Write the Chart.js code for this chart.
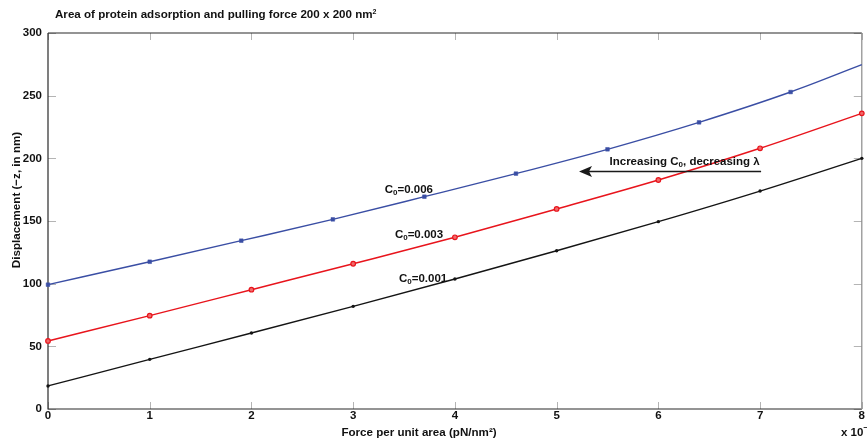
<!DOCTYPE html>
<html>
<head>
<meta charset="utf-8">
<script src="https://cdn.jsdelivr.net/npm/chart.js@4/dist/chart.umd.min.js"></script>
<style>
  html, body { margin: 0; padding: 0; background: #ffffff; }
  #wrap { width: 867px; height: 441px; position: relative; }
</style>
</head>
<body>
<div id="wrap"><canvas id="chart" width="867" height="441"></canvas></div>
<script>
// Force per unit area (x 10^-3 pN/nm^2) and displacement (-z, nm)
const forceGrid = [0, 1, 2, 3, 4, 5, 6, 7, 8];
const dispC001 = [18.4, 39.6, 60.6, 81.9, 103.7, 126.3, 149.5, 173.9, 200.0];
const dispC003 = [54.3, 74.5, 95.2, 115.9, 137.0, 159.6, 182.7, 208.0, 235.9];
const forceC006 = [0, 1, 1.9, 2.8, 3.7, 4.6, 5.5, 6.4, 7.3, 8];
const dispC006 = [99.2, 117.5, 134.3, 151.3, 169.4, 187.8, 207.2, 228.7, 252.9, 274.7];

const xTickValues = [0, 1, 2, 3, 4, 5, 6, 7, 8];
const yTickValues = [0, 50, 100, 150, 200, 250, 300];

const FONT = '"Liberation Sans", Arial, Helvetica, sans-serif';

const toPoints = (xs, ys) => xs.map((x, i) => ({ x: x, y: ys[i] }));

// Curve labels and the trend arrow, placed in data coordinates
const curveLabels = [
  { sub: '0', value: '=0.006', x: 3.31, y: 174.8 },
  { sub: '0', value: '=0.003', x: 3.41, y: 138.8 },
  { sub: '0', value: '=0.001', x: 3.45, y: 103.7 }
];
const trendNote = { x: 5.52, y: 197.0 };
const trendArrow = { from: 7.01, to: 5.22, y: 189.4 };

function drawSubText(ctx, x, y, parts) {
  let cx = x;
  parts.forEach(p => {
    ctx.font = 'bold ' + p.size + 'px ' + FONT;
    ctx.fillText(p.t, cx, y + (p.dy || 0));
    cx += ctx.measureText(p.t).width;
  });
  return cx;
}

const frame = {
  id: 'frame',
  beforeDatasetsDraw(chart) {
    const { ctx, chartArea: a, scales } = chart;
    const xs = scales.x, ys = scales.y;
    ctx.save();
    // inward tick marks on all four sides
    ctx.strokeStyle = '#b4b4b4';
    ctx.lineWidth = 1;
    ctx.beginPath();
    xTickValues.forEach(v => {
      const px = Math.round(xs.getPixelForValue(v)) + 0.5;
      ctx.moveTo(px, a.bottom); ctx.lineTo(px, a.bottom - 7);
      ctx.moveTo(px, a.top); ctx.lineTo(px, a.top + 7);
    });
    yTickValues.forEach(v => {
      const py = Math.round(ys.getPixelForValue(v)) + 0.5;
      ctx.moveTo(a.left, py); ctx.lineTo(a.left + 8, py);
      ctx.moveTo(a.right, py); ctx.lineTo(a.right - 8, py);
    });
    ctx.stroke();

    // box
    ctx.lineWidth = 1.2;
    ctx.strokeStyle = '#2a2a2a';
    ctx.beginPath();
    ctx.moveTo(a.left, a.top); ctx.lineTo(a.right, a.top);
    ctx.moveTo(a.left, a.top); ctx.lineTo(a.left, a.bottom);
    ctx.lineTo(a.right, a.bottom);
    ctx.stroke();
    ctx.strokeStyle = '#8a8a8a';
    ctx.beginPath();
    ctx.moveTo(a.right, a.top); ctx.lineTo(a.right, a.bottom);
    ctx.stroke();
    ctx.restore();
  },
  afterDraw(chart) {
    const { ctx, chartArea: a, scales } = chart;
    const xs = scales.x, ys = scales.y;
    ctx.save();
    ctx.fillStyle = '#111111';

    // tick labels
    ctx.font = 'bold 11.5px ' + FONT;
    ctx.textAlign = 'center';
    ctx.textBaseline = 'middle';
    xTickValues.forEach(v => {
      ctx.fillText(String(v), xs.getPixelForValue(v), a.bottom + 7);
    });
    ctx.textAlign = 'right';
    yTickValues.forEach(v => {
      ctx.fillText(String(v), a.left - 6, ys.getPixelForValue(v));
    });

    // exponent of the x axis
    ctx.textAlign = 'left';
    drawSubText(ctx, 841, 433, [
      { t: 'x 10', size: 11.5 },
      { t: '\u22123', size: 8, dy: -5 }
    ]);

    // title
    drawSubText(ctx, 55, 15, [
      { t: 'Area of protein adsorption and pulling force 200 x 200 nm', size: 11.6 },
      { t: '2', size: 7, dy: -3 }
    ]);

    // axis titles
    ctx.textAlign = 'center';
    ctx.font = 'bold 11.6px ' + FONT;
    ctx.fillText('Force per unit area (pN/nm\u00B2)', 419, 433);
    ctx.save();
    ctx.translate(17, 200);
    ctx.rotate(-Math.PI / 2);
    ctx.fillText('Displacement (\u2212z, in nm)', 0, 0);
    ctx.restore();

    // curve labels C0=...
    ctx.textAlign = 'left';
    curveLabels.forEach(l => {
      const px = xs.getPixelForValue(l.x), py = ys.getPixelForValue(l.y);
      drawSubText(ctx, px, py, [
        { t: 'C', size: 11.5 },
        { t: l.sub, size: 8, dy: 3 },
        { t: l.value, size: 11.5 }
      ]);
    });

    // trend note and arrow
    const nx = xs.getPixelForValue(trendNote.x), ny = ys.getPixelForValue(trendNote.y);
    drawSubText(ctx, nx, ny, [
      { t: 'Increasing C', size: 11.5 },
      { t: '0', size: 8, dy: 3 },
      { t: ', decreasing \u03BB', size: 11.5 }
    ]);
    const ax0 = xs.getPixelForValue(trendArrow.from);
    const ax1 = xs.getPixelForValue(trendArrow.to);
    const ay = ys.getPixelForValue(trendArrow.y);
    ctx.strokeStyle = '#1a1a1a';
    ctx.lineWidth = 1.5;
    ctx.beginPath();
    ctx.moveTo(ax0, ay); ctx.lineTo(ax1 + 10, ay);
    ctx.stroke();
    ctx.beginPath();
    ctx.moveTo(ax1, ay);
    ctx.lineTo(ax1 + 13, ay - 5.5);
    ctx.lineTo(ax1 + 10, ay);
    ctx.lineTo(ax1 + 13, ay + 5.5);
    ctx.closePath();
    ctx.fillStyle = '#1a1a1a';
    ctx.fill();
    ctx.restore();
  }
};

const blueMarkers = forceC006.map((x, i) => (i === forceC006.length - 1 ? 0 : 2.6));

new Chart(document.getElementById('chart'), {
  type: 'line',
  data: {
    datasets: [
      {
        label: 'C0=0.006',
        data: toPoints(forceC006, dispC006),
        borderColor: '#3a4ea4',
        backgroundColor: '#3a4ea4',
        borderWidth: 1.4,
        pointStyle: 'rect',
        pointRadius: blueMarkers,
        pointBorderWidth: 0.5,
        cubicInterpolationMode: 'monotone',
        clip: false
      },
      {
        label: 'C0=0.003',
        data: toPoints(forceGrid, dispC003),
        borderColor: '#e8141c',
        backgroundColor: '#f06a6a',
        borderWidth: 1.5,
        pointStyle: 'circle',
        pointRadius: 2.3,
        pointBorderWidth: 1.2,
        cubicInterpolationMode: 'monotone',
        clip: false
      },
      {
        label: 'C0=0.001',
        data: toPoints(forceGrid, dispC001),
        borderColor: '#141414',
        backgroundColor: '#141414',
        borderWidth: 1.4,
        pointStyle: 'circle',
        pointRadius: 1.7,
        pointBorderWidth: 0,
        cubicInterpolationMode: 'monotone',
        clip: false
      }
    ]
  },
  options: {
    responsive: false,
    animation: false,
    devicePixelRatio: 1,
    layout: { padding: { left: 48, top: 33, right: 2, bottom: 32 } },
    plugins: { legend: { display: false }, tooltip: { enabled: false }, title: { display: false } },
    scales: {
      x: { type: 'linear', min: 0, max: 8, display: false },
      y: { type: 'linear', min: 0, max: 300, display: false }
    }
  },
  plugins: [frame]
});
</script>
</body>
</html>
